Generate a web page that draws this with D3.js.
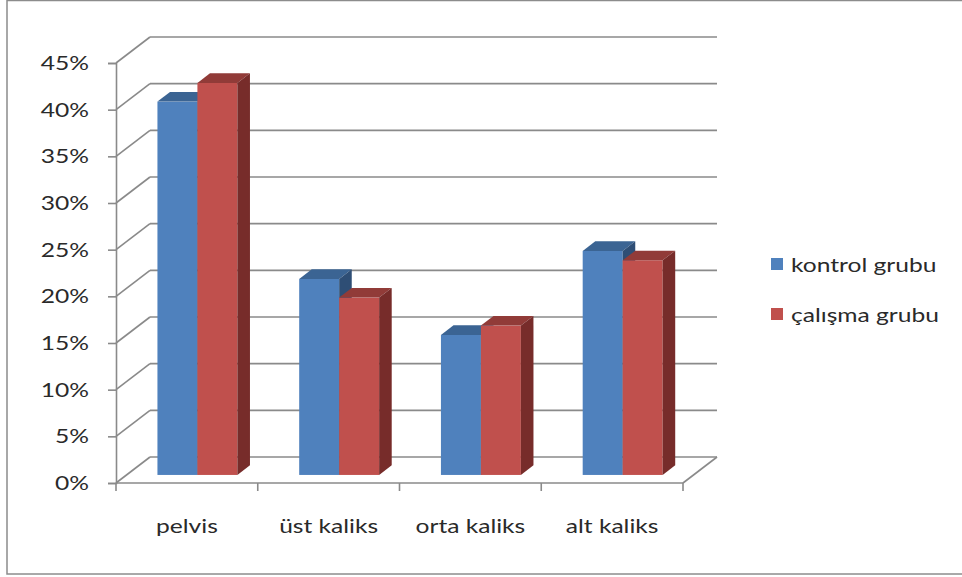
<!DOCTYPE html>
<html>
<head>
<meta charset="utf-8">
<script src="https://cdn.jsdelivr.net/npm/d3@7"></script>
<style>
  body { margin: 0; background: #fff; }
  svg { display: block; }
  text { font-family: Lato, "Open Sans", sans-serif; fill: #2a2a2a; }
</style>
</head>
<body>
<div id="chart"></div>
<script>
// chart data
var categories = ["pelvis", "üst kaliks", "orta kaliks", "alt kaliks"];
var seriesNames = ["kontrol grubu", "çalışma grubu"];
var kontrolValues = [0.40, 0.21, 0.15, 0.24];
var calismaValues = [0.42, 0.19, 0.16, 0.23];
var yTicks = [0, 0.05, 0.10, 0.15, 0.20, 0.25, 0.30, 0.35, 0.40, 0.45];

var W = 962, H = 577;
var DX = 34, DY = -26;      // depth of the 3d box
var f0 = 0.31, f1 = 0.68;   // front / back of the bars inside the box depth
var stretch = 1.23;         // text is drawn a bit wide in the original

var colors = {
  front: ["#4F81BD", "#C0504D"],
  top:   ["#3B6493", "#913B38"],
  side:  ["#2E4E75", "#772C2A"]
};

var svg = d3.select("#chart").append("svg")
  .attr("width", W).attr("height", H);

// outer frame
svg.append("rect")
  .attr("x", 7).attr("y", 0.5).attr("width", 1000).attr("height", 573.5)
  .attr("fill", "none").attr("stroke", "#8c8c8c").attr("stroke-width", 1.5);

var y = d3.scaleLinear().domain([0, 0.45]).range([483, 63]);
var x = d3.scaleBand().domain(categories).range([116, 683]);
var s = d3.scaleBand().domain(seriesNames)
  .range([x.bandwidth() * 0.218, x.bandwidth() * 0.782]);

var grid = svg.append("g")
  .attr("stroke", "#8a8a8a").attr("stroke-width", 1.6).attr("fill", "none");

// back wall lines and the left wall diagonals
yTicks.forEach(function(t) {
  grid.append("line")
    .attr("x1", 116 + DX).attr("x2", 683 + DX)
    .attr("y1", y(t) + DY).attr("y2", y(t) + DY);
  grid.append("line")
    .attr("x1", 116).attr("x2", 116 + DX)
    .attr("y1", y(t)).attr("y2", y(t) + DY);
});
// floor front edge and right edge
grid.append("line").attr("x1", 116).attr("x2", 683).attr("y1", y(0)).attr("y2", y(0));
grid.append("line").attr("x1", 683).attr("x2", 683 + DX).attr("y1", y(0)).attr("y2", y(0) + DY);

// y axis
var yAxis = svg.append("g").attr("transform", "translate(116,0)")
  .call(d3.axisLeft(y).tickValues(yTicks).tickSize(8).tickFormat(d3.format(".0%")));
yAxis.select(".domain").attr("stroke", "#8a8a8a").attr("stroke-width", 1.6);
yAxis.selectAll(".tick line").attr("stroke", "#8a8a8a").attr("stroke-width", 1.6);
yAxis.selectAll(".tick text").remove();
yTicks.forEach(function(t) {
  svg.append("text")
    .attr("transform", "translate(89," + (y(t) + 7) + ") scale(" + stretch + ",1)")
    .attr("text-anchor", "end")
    .style("font-size", "20px")
    .text(d3.format(".0%")(t));
});

// x axis ticks and labels
var xAxis = svg.append("g").attr("transform", "translate(0," + y(0) + ")")
  .call(d3.axisBottom(x).tickSize(0).tickFormat(""));
xAxis.select(".domain").remove();
var edges = categories.map(function(c) { return x(c); }).concat([683]);
edges.forEach(function(e) {
  xAxis.append("line").attr("x1", e).attr("x2", e).attr("y1", 0).attr("y2", 8)
    .attr("stroke", "#8a8a8a").attr("stroke-width", 1.6);
});
categories.forEach(function(c) {
  svg.append("text")
    .attr("transform", "translate(" + (x(c) + x.bandwidth() / 2) + ",533) scale(" + stretch + ",1)")
    .attr("text-anchor", "middle")
    .style("font-size", "20px")
    .text(c);
});

// 3d bars
var allValues = [kontrolValues, calismaValues];
var bars = svg.append("g");
categories.forEach(function(c, ci) {
  seriesNames.forEach(function(sn, si) {
    var v = allValues[si][ci];
    var xl = x(c) + s(sn) + f0 * DX;
    var xr = xl + s.bandwidth();
    var yt = y(v) + f0 * DY;
    var yb = y(0) + f0 * DY;
    var bx = (f1 - f0) * DX, by = (f1 - f0) * DY;
    bars.append("rect")
      .attr("x", xl).attr("y", yt).attr("width", xr - xl).attr("height", yb - yt)
      .attr("fill", colors.front[si]);
    bars.append("polygon")
      .attr("points", [[xl, yt], [xr, yt], [xr + bx, yt + by], [xl + bx, yt + by]].join(" "))
      .attr("fill", colors.top[si]);
    bars.append("polygon")
      .attr("points", [[xr, yt], [xr + bx, yt + by], [xr + bx, yb + by], [xr, yb]].join(" "))
      .attr("fill", colors.side[si]);
  });
});

// legend
var legend = svg.append("g");
seriesNames.forEach(function(sn, i) {
  legend.append("rect")
    .attr("x", 771).attr("y", 258 + i * 50).attr("width", 12).attr("height", 12)
    .attr("fill", colors.front[i]);
  legend.append("text")
    .attr("transform", "translate(791," + (272 + i * 50) + ") scale(" + stretch + ",1)")
    .style("font-size", "20px")
    .text(sn);
});
</script>
</body>
</html>
